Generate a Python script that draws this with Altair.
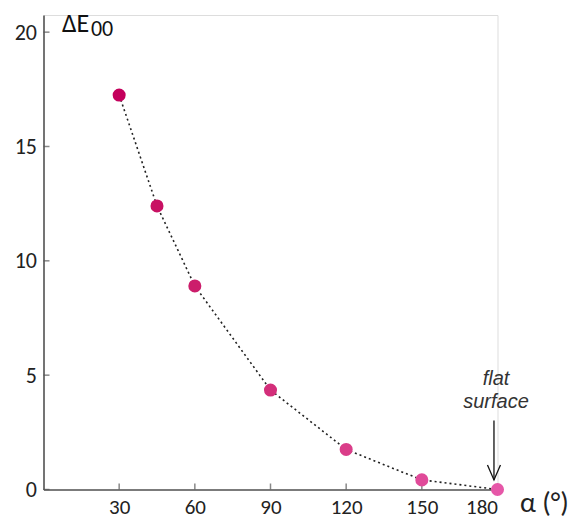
import altair as alt
import pandas as pd

alpha = [30, 45, 60, 90, 120, 150, 180]
delta_e = [17.25, 12.4, 8.9, 4.35, 1.75, 0.42, 0.0]
x_ticks = [30, 60, 90, 120, 150, 180]
y_ticks = [0, 5, 10, 15, 20]

df = pd.DataFrame({"alpha": alpha, "de": delta_e})
xt = pd.DataFrame({"v": x_ticks})
yt = pd.DataFrame({"v": y_ticks})

FONT = "Carlito, Lato"
AX = "#555555"

xs = alt.Scale(domain=[0, 180], nice=False, zero=False)
ys = alt.Scale(domain=[0, 20.75], nice=False, zero=False)

base = alt.Chart(df)

line = base.mark_line(color="#222222", strokeDash=[2, 3], strokeWidth=1.6).encode(
    x=alt.X("alpha:Q", scale=xs,
            axis=alt.Axis(values=x_ticks, title=None, grid=False, ticks=False,
                          domainColor=AX, domainWidth=1.6, labelFont=FONT,
                          labelFontSize=21, labelColor="#222222", labelPadding=7)),
    y=alt.Y("de:Q", scale=ys,
            axis=alt.Axis(values=y_ticks, title=None, grid=False, ticks=False,
                          domainColor=AX, domainWidth=1.6, labelFont=FONT,
                          labelFontSize=22, labelColor="#222222", labelPadding=7)),
)

pts = base.mark_circle(size=170, opacity=1).encode(
    x=alt.X("alpha:Q", scale=xs),
    y=alt.Y("de:Q", scale=ys),
    color=alt.Color("alpha:Q", scale=alt.Scale(domain=[30, 180], range=["#c4005c", "#e657a8"]), legend=None),
)

xtick = alt.Chart(xt).mark_tick(orient="vertical", size=6, thickness=1.5, color=AX, yOffset=-3).encode(
    x=alt.X("v:Q", scale=xs), y=alt.Y("zero:Q", scale=ys)
).transform_calculate(zero="0")

ytick = alt.Chart(yt).mark_tick(orient="horizontal", size=6, thickness=1.5, color=AX, xOffset=3).encode(
    y=alt.Y("v:Q", scale=ys), x=alt.X("zero:Q", scale=xs)
).transform_calculate(zero="0")

def txt(t, x, y, **kw):
    return alt.Chart(pd.DataFrame({"t": [t], "x": [x], "y": [y]})).mark_text(**kw).encode(
        x=alt.X("x:Q", scale=xs), y=alt.Y("y:Q", scale=ys), text="t:N")

NARROW = "Liberation Sans Narrow, Liberation Sans"
t_de = txt("ΔE", 7.3, 20.0, font=FONT, fontSize=26, align="left", baseline="alphabetic", color="#111111")
t_00 = txt("00", 18.8, 19.83, font=FONT, fontSize=22, align="left", baseline="alphabetic", color="#111111")
t_alpha = txt("α (°)", 188.9, -1.0, font=FONT, fontSize=28, align="left", baseline="alphabetic", color="#222222")
t_flat = txt("flat", 179.4, 4.57, font=NARROW, fontSize=20,
             fontStyle="italic", align="center", baseline="alphabetic", color="#333333")
t_surf = txt("surface", 179.4, 3.56, font=NARROW, fontSize=20,
             fontStyle="italic", align="center", baseline="alphabetic", color="#333333")

arrow_df = pd.DataFrame({"x": [178.6], "y1": [3.02], "y2": [0.42]})
shaft = alt.Chart(arrow_df).mark_rule(color="#111111", strokeWidth=1.3).encode(
    x=alt.X("x:Q", scale=xs), y=alt.Y("y1:Q", scale=ys), y2="y2:Q")
head = alt.Chart(arrow_df).mark_point(shape="M -1 -2.3 L 0 0 L 1 -2.3", size=169, filled=False,
                                      color="#111111", strokeWidth=1.3, opacity=1).encode(
    x=alt.X("x:Q", scale=xs), y=alt.Y("y2:Q", scale=ys))

chart = alt.layer(line, xtick, ytick, pts, shaft, head, t_de, t_00, t_alpha, t_flat, t_surf).properties(
    width=454, height=474.5,
    autosize=alt.AutoSizeParams(type="none"),
    padding={"left": 35.5, "top": 7, "right": 80, "bottom": 33},
).configure_view(stroke=None).configure(background="white")

chart.save("out.html", embed_options={"renderer": "svg", "actions": False})
